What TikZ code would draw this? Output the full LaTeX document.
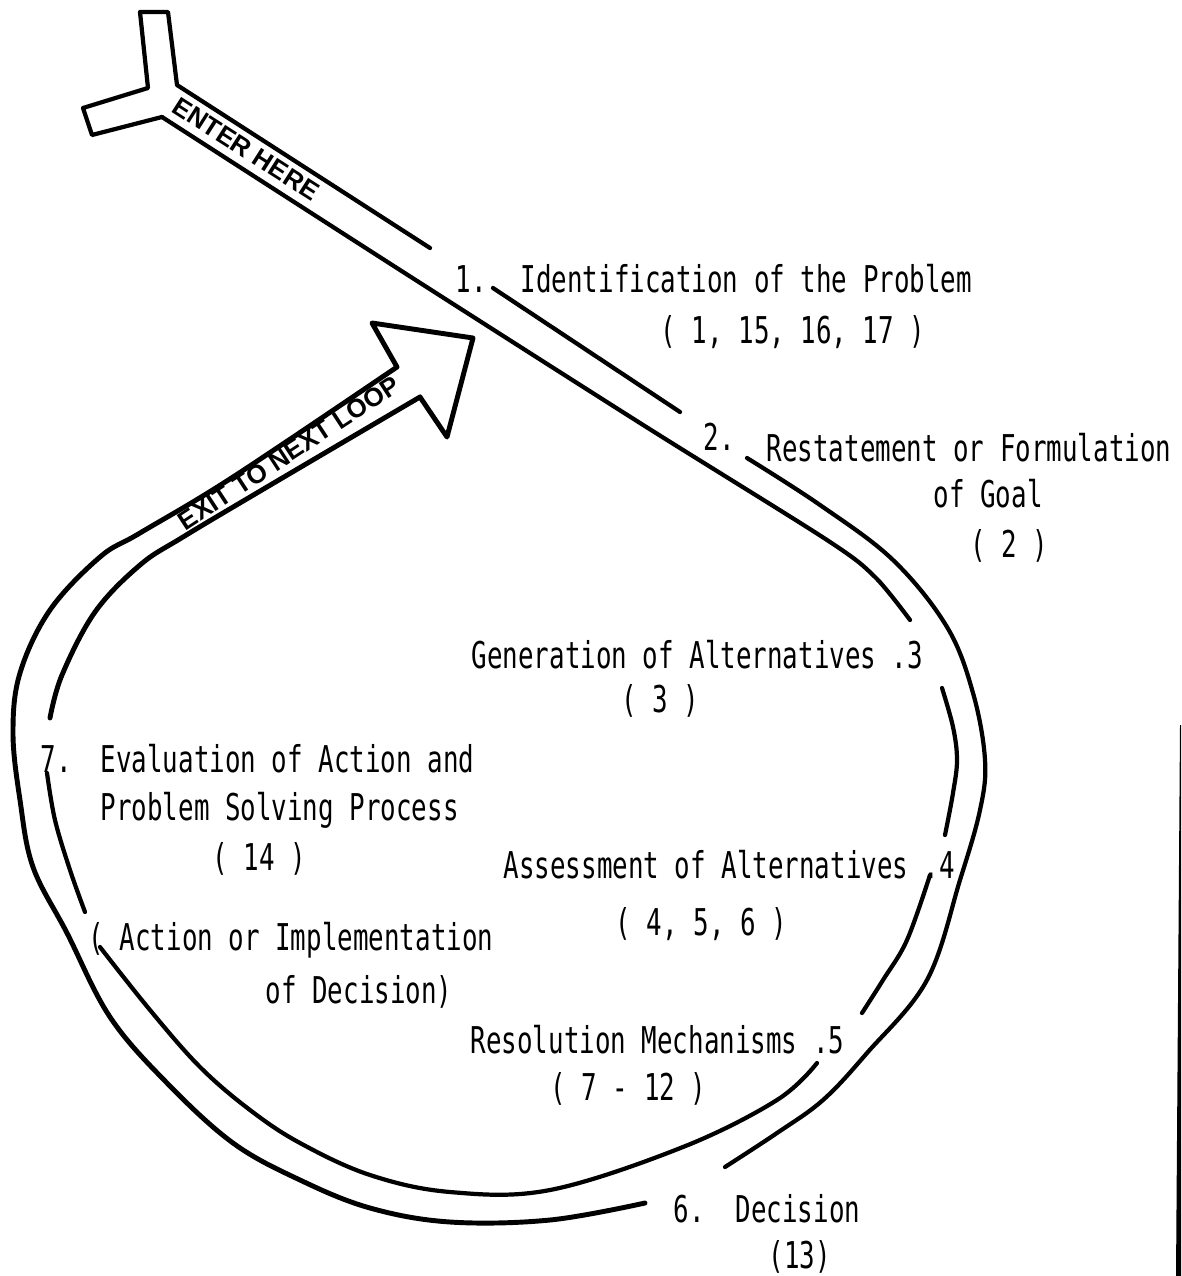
\documentclass[tikz,border=0pt]{standalone}
\usepackage{fontspec}
\newfontfamily\twfont[FakeStretch=0.7]{DejaVu Sans Mono}
\newfontfamily\lbfont{Liberation Sans}
\tikzset{
  lbl/.style={font=\twfont\fontsize{10.5}{12}\selectfont, anchor=base west, inner sep=0pt},
  ln/.style={line width=1.2pt, line cap=round, line join=round},
  arr/.style={line width=1.4pt, line cap=round, line join=round},
  chan/.style={font=\lbfont\bfseries\fontsize{7.4}{8}\selectfont, inner sep=0pt}
}
\begin{document}
\begin{tikzpicture}[x=0.01cm,y=-0.01cm]
\useasboundingbox (0,0) rectangle (1181,1276);

% ---- entry channel (Y) and inner line down to gap 3
\draw[ln] (430,248) -- (177,85) -- (168,12) -- (140,12) -- (148,88) -- (83,108) -- (92,135) -- (162,117);
\draw[ln] plot[smooth, tension=0.5] coordinates {(162,117) (400,270) (640,423) (827,540) (875,577) (910,620)};

% ---- outer line, right side
\draw[ln] (493,288) -- (680,412);
\draw[ln] plot[smooth, tension=0.6] coordinates {(747,458) (820,505) (893,560) (947,627) (973,693) (985,760) (980,810) (960,880) (927,980) (867,1053) (823,1100) (777,1133) (725,1167)};

% ---- outer line, bottom and left, up into the exit arrow
\draw[arr] plot[smooth, tension=0.6] coordinates {(645,1203) (550,1220) (450,1222) (370,1208) (300,1180) (233,1143) (167,1083) (110,1017) (67,933) (33,867) (20,800) (13,733) (20,673) (50,610) (100,557) (140,533) (233,477) (397,367)}
  -- (372,323) -- (473,338) -- (447,437) -- (420,397);
\draw[arr] plot[smooth, tension=0.6] coordinates {(420,397) (267,487) (183,537) (140,565) (95,612) (62,675) (50,718)};

% ---- inner line, left and bottom
\draw[ln] plot[smooth, tension=0.6] coordinates {(47,773) (55,820) (70,870) (85,912)};
\draw[ln] plot[smooth, tension=0.6] coordinates {(100,947) (150,1010) (200,1067) (250,1110) (300,1143) (370,1175) (450,1192) (550,1190) (683,1147) (777,1100) (817,1063)};

% ---- inner line, right side
\draw[ln] plot[smooth, tension=0.6] coordinates {(862,1013) (883,980) (907,940) (930,875)};
\draw[ln] plot[smooth, tension=0.6] coordinates {(945,835) (953,793) (957,760) (953,727) (942,688)};

% ---- scan edge bar at right
\fill (1180,725) -- (1181,725) -- (1181,1276) -- (1176,1276) -- cycle;

% ---- channel labels
\node[chan, rotate=-32.6] (enter) at (246,149) {ENTER HERE};
\node[chan, rotate=33.2] (exit) at (289,453) {EXIT TO NEXT LOOP};

% ---- step labels
\node[lbl] (n1) at (455,292) {1.};
\node[lbl] (t1) at (520,292) {Identification of the Problem};
\node[lbl] (r1) at (660,343) {( 1, 15, 16, 17 )};

\node[lbl] (n2) at (703,450) {2.};
\node[lbl] (t2) at (766,461) {Restatement or Formulation};
\node[lbl] (t2b) at (933,507) {of Goal};
\node[lbl] (r2) at (970,557) {( 2 )};

\node[lbl] (t3) at (471,668) {Generation of Alternatives .3};
\node[lbl] (r3) at (621,712) {( 3 )};

\node[lbl] (n7) at (40,772) {7.};
\node[lbl] (t7) at (100,772) {Evaluation of Action and};
\node[lbl] (t7b) at (100,820) {Problem Solving Process};
\node[lbl] (r7) at (212,870) {( 14 )};

\node[lbl] (t4) at (503,878) {Assessment of Alternatives .4};
\node[lbl] (r4) at (615,935) {( 4, 5, 6 )};

\node[lbl] (ta) at (88,950) {( Action or Implementation};
\node[lbl] (tab) at (265,1003) {of Decision)};

\node[lbl] (t5) at (470,1053) {Resolution Mechanisms .5};
\node[lbl] (r5) at (550,1100) {( 7 - 12 )};

\node[lbl] (n6) at (673,1222) {6.};
\node[lbl] (t6) at (735,1222) {Decision};
\node[lbl] (r6) at (768,1268) {(13)};
\end{tikzpicture}
\end{document}
